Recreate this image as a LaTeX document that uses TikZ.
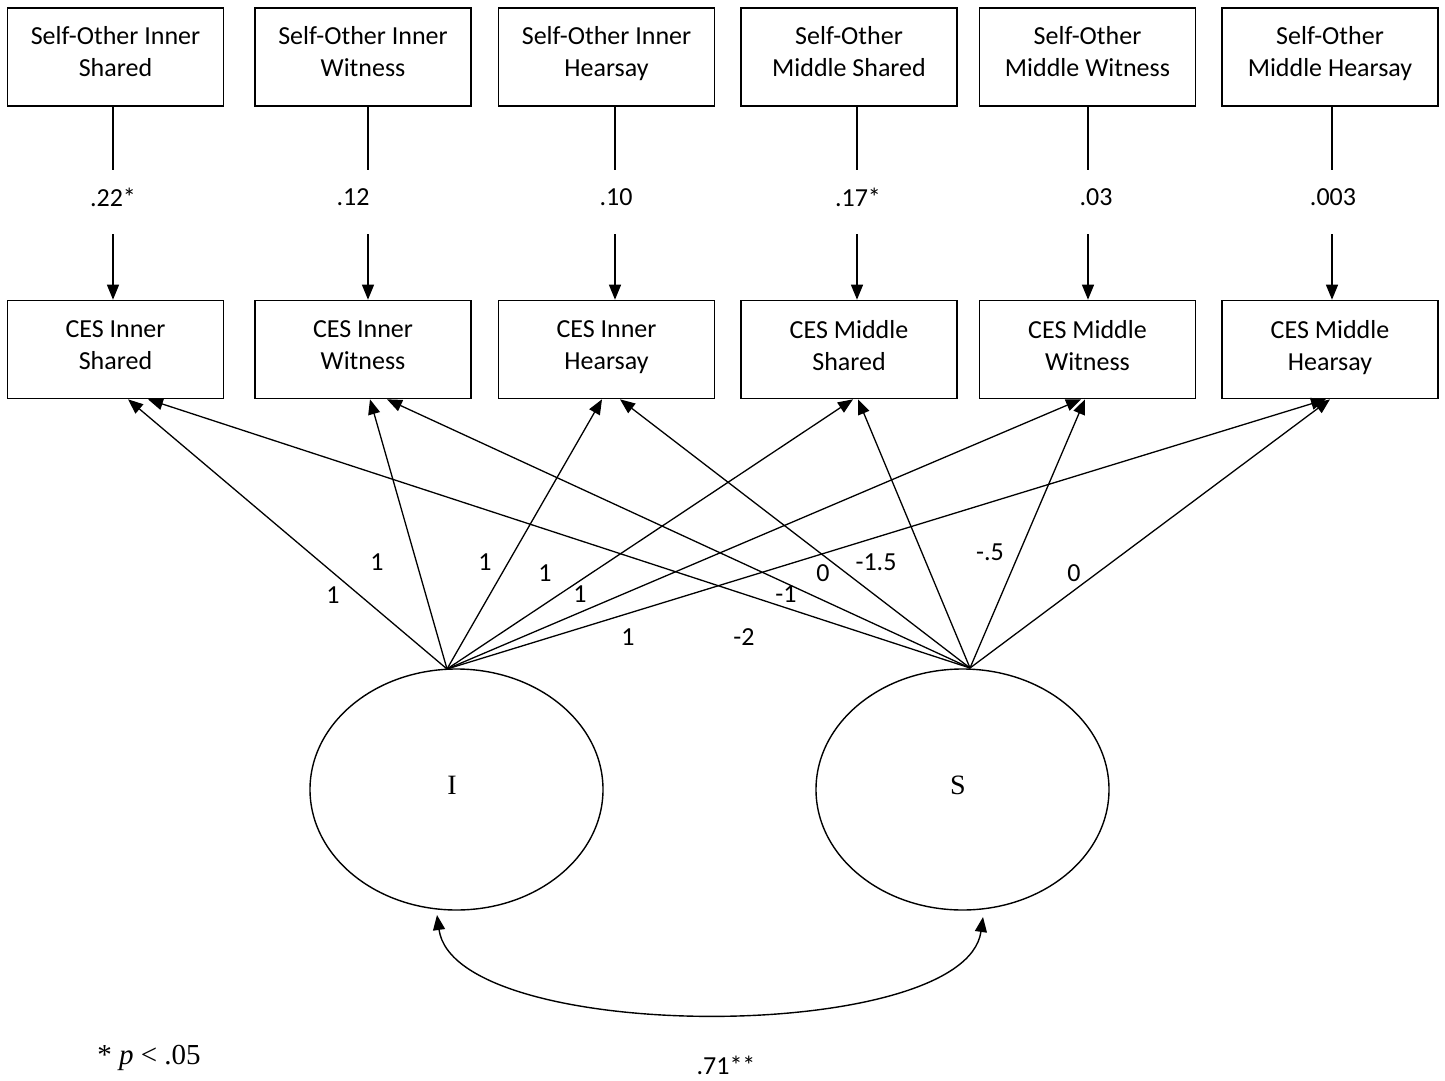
\documentclass[tikz,border=0pt]{standalone}
\usepackage{fontspec}
\setmainfont{Carlito}
\newfontfamily\serifface{Liberation Serif}
\usetikzlibrary{shapes.geometric,arrows.meta}

% invisible rules fixing the height of the first line and depth of the last line
\newcommand{\boxstrut}{\rule[-12pt]{0pt}{32pt}}
\newcommand{\lowboxstrut}{\rule[-9pt]{0pt}{32pt}}

\begin{document}
\begin{tikzpicture}[x=1pt,y=-1pt,
  font=\fontsize{26}{32}\selectfont,
  var/.style={draw,line width=1.6pt,minimum width=216pt,minimum height=98pt,inner sep=0pt,align=center,
    execute at begin node=\boxstrut, execute at end node=\boxstrut},
  ind/.style={draw,line width=1.6pt,minimum width=216pt,minimum height=98pt,inner sep=0pt,align=center,
    execute at begin node=\lowboxstrut, execute at end node=\lowboxstrut},
  latent/.style={draw,ellipse,line width=1.4pt,minimum width=293pt,minimum height=241pt,inner sep=0pt},
  factorname/.style={inner sep=0pt,font=\serifface\fontsize{28}{32}\selectfont},
  link/.style={line width=1.3pt},
  arr/.style={line width=1.3pt,-{Triangle[length=15pt,width=12pt]}},
  dblarr/.style={line width=1.4pt,{Triangle[length=15pt,width=12pt]}-{Triangle[length=15pt,width=12pt]}},
  coef/.style={inner sep=0pt}
]
\useasboundingbox (0,0) rectangle (1445,1081);

% observed predictors
\node[var] (t1) at (115.5,57) {Self-Other Inner\\Shared};
\node[var] (t2) at (363,57)   {Self-Other Inner\\Witness};
\node[var] (t3) at (606.5,57) {Self-Other Inner\\Hearsay};
\node[var] (t4) at (849,57)   {Self-Other\\Middle Shared};
\node[var] (t5) at (1087.5,57){Self-Other\\Middle Witness};
\node[var] (t6) at (1330,57)  {Self-Other\\Middle Hearsay};

% outcome indicators
\node[ind] (b1) at (115.5,349.5) {CES Inner\\Shared};
\node[ind] (b2) at (363,349.5)   {CES Inner\\Witness};
\node[ind] (b3) at (606.5,349.5) {CES Inner\\Hearsay};
\node[ind] (b4) at (849,349.5)   {CES Middle\\Shared};
\node[ind] (b5) at (1087.5,349.5){CES Middle\\Witness};
\node[ind] (b6) at (1330,349.5)  {CES Middle\\Hearsay};

% latent growth factors
\node[latent] (I) at (456.5,789.5) {};
\node[latent] (S) at (962.5,789.5) {};
\node[factorname] (Iname) at (452,785) {I};
\node[factorname] (Sname) at (958,785) {S};

% regression paths with coefficients set in the gap
\foreach \k/\x in {1/113,2/368,3/615,4/857,5/1088,6/1332}{
  \coordinate (ga\k) at (\x,170);
  \coordinate (gb\k) at (\x,234);
  \draw[link] (t\k.south -| ga\k) -- (ga\k);
  \draw[arr] (gb\k) -- (b\k.north -| gb\k);
}
\node[coef] (r1) at (113,197) {.22*};
\node[coef] (r2) at (353,197) {.12};
\node[coef] (r3) at (616,197) {.10};
\node[coef] (r4) at (858,197) {.17*};
\node[coef] (r5) at (1096,197) {.03};
\node[coef] (r6) at (1333,197) {.003};

% factor loadings
\coordinate (Itop) at (447,669);
\coordinate (Stop) at (970,668);
\draw[arr] (Itop) -- ([xshift=12.5pt]b1.south);
\draw[arr] (Itop) -- ([xshift=7pt]b2.south);
\draw[arr] (Itop) -- ([xshift=-4.5pt]b3.south);
\draw[arr] (Itop) -- ([xshift=4pt]b4.south);
\draw[arr] (Itop) -- ([xshift=-6.5pt]b5.south);
\draw[arr] (Itop) -- ([xshift=-4pt]b6.south);
\draw[arr] (Stop) -- ([xshift=32.5pt]b1.south);
\draw[arr] (Stop) -- ([xshift=24pt]b2.south);
\draw[arr] (Stop) -- ([xshift=13.5pt]b3.south);
\draw[arr] (Stop) -- ([xshift=9pt]b4.south);
\draw[arr] (Stop) -- ([xshift=-2.5pt]b5.south);
\draw[arr] (Stop) -- ([xshift=0pt]b6.south);

\node[coef] (li1) at (333,595) {1};
\node[coef] (li2) at (377,562) {1};
\node[coef] (li3) at (485,562) {1};
\node[coef] (li4) at (545,573) {1};
\node[coef] (li5) at (580,594) {1};
\node[coef] (li6) at (628,637) {1};
\node[coef] (ls1) at (744,637) {-2};
\node[coef] (ls2) at (786,594) {-1};
\node[coef] (ls3) at (823,573) {0};
\node[coef] (ls4) at (876,562) {-1.5};
\node[coef] (ls5) at (990,552) {-.5};
\node[coef] (ls6) at (1074,573) {0};

% factor covariance
\coordinate (cI) at (437,915);
\coordinate (cS) at (983,917);
\draw[dblarr] (cI) .. controls (455,1045) and (965,1045) .. (cS);
\node[coef] (cov) at (726,1065) {.71**};

% significance note
\node[coef,font=\serifface\fontsize{29}{32}\selectfont] (note) at (149,1058) {* \textit{p} < .05};
\end{tikzpicture}
\end{document}
